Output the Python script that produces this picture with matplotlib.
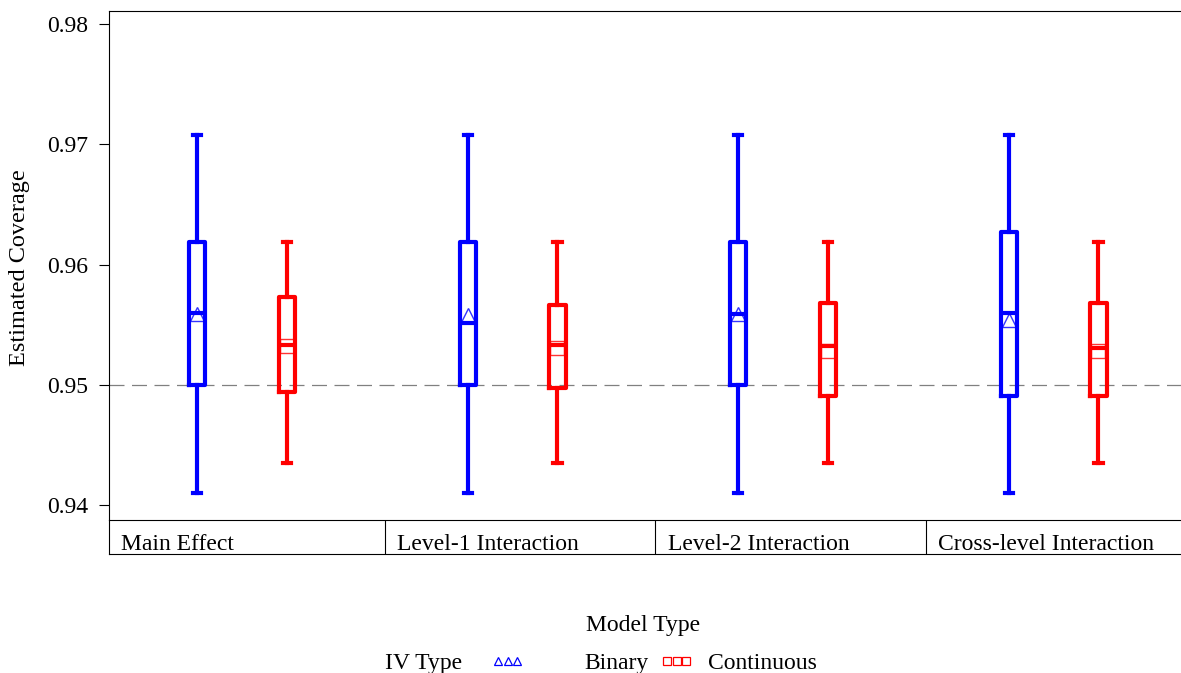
import matplotlib.pyplot as plt
from matplotlib.lines import Line2D

# data
categories = ["Main Effect", "Level-1 Interaction", "Level-2 Interaction", "Cross-level Interaction"]

binary_whislo = [0.9410, 0.9410, 0.9410, 0.9410]
binary_q1 = [0.9500, 0.9500, 0.9500, 0.9491]
binary_med = [0.9560, 0.9551, 0.9559, 0.9560]
binary_q3 = [0.9619, 0.9619, 0.9619, 0.9627]
binary_whishi = [0.9708, 0.9708, 0.9708, 0.9708]
binary_mean = [0.9559, 0.9558, 0.9559, 0.9554]

cont_whislo = [0.9435, 0.9435, 0.9435, 0.9435]
cont_q1 = [0.9494, 0.9497, 0.9491, 0.9491]
cont_med = [0.9533, 0.9533, 0.9532, 0.9531]
cont_q3 = [0.9573, 0.9566, 0.9568, 0.9568]
cont_whishi = [0.9619, 0.9619, 0.9619, 0.9619]
cont_mean = [0.9532, 0.9531, 0.9528, 0.9528]

yticks = [0.94, 0.95, 0.96, 0.97, 0.98]
reference_line = 0.95

BLUE = "#0000ff"
RED = "#ff0000"
FONT = "Liberation Serif"


def make_stats(lo, q1, med, q3, hi, mean):
    return [dict(whislo=a, q1=b, med=c, q3=d, whishi=e, mean=f, fliers=[])
            for a, b, c, d, e, f in zip(lo, q1, med, q3, hi, mean)]


def draw_boxes(ax, stats, positions, color, marker):
    lw = 3.0
    ax.bxp(stats, positions=positions, widths=0.06, capwidths=0.03,
           showmeans=True, showfliers=False, manage_ticks=False,
           boxprops=dict(color=color, linewidth=lw),
           whiskerprops=dict(color=color, linewidth=lw),
           capprops=dict(color=color, linewidth=lw),
           medianprops=dict(color=color, linewidth=lw),
           meanprops=dict(marker=marker, markersize=9.5, markerfacecolor="none",
                          markeredgecolor=color, markeredgewidth=1.0, alpha=0.8))


def main():
    plt.rcParams["font.family"] = [FONT, "DejaVu Serif"]
    plt.rcParams["font.size"] = 17

    fig = plt.figure(figsize=(11.81, 6.73), dpi=100)
    W, H = 1181, 673
    ax = fig.add_axes([109 / W, 1 - 520 / H, (W - 109) / W, 509 / H])
    strip = fig.add_axes([109 / W, 1 - 554 / H, (W - 109) / W, 34 / H])

    n = len(categories)
    centers = list(range(n))
    offset = 0.166
    xlim = (-0.492, 3.471)

    draw_boxes(ax, make_stats(binary_whislo, binary_q1, binary_med, binary_q3, binary_whishi, binary_mean),
               [c - offset for c in centers], BLUE, "^")
    draw_boxes(ax, make_stats(cont_whislo, cont_q1, cont_med, cont_q3, cont_whishi, cont_mean),
               [c + offset for c in centers], RED, "s")

    ax.axhline(reference_line, color="#808080", linewidth=0.9, dashes=(12, 6), zorder=0)

    ax.set_xlim(*xlim)
    ax.set_ylim(0.93875, 0.9811)
    ax.set_yticks(yticks)
    ax.set_yticklabels([f"{t:.2f}" for t in yticks])
    ax.set_xticks([])
    ax.tick_params(axis="y", direction="out", length=7, width=0.8, pad=8, labelsize=17)
    for side in ["right", "bottom"]:
        ax.spines[side].set_visible(False)
    ax.spines["left"].set_linewidth(0.8)
    ax.spines["top"].set_linewidth(0.8)

    fig.text(20 / W, 1 - 268 / H, "Estimated Coverage", rotation=90,
             ha="center", va="center", fontsize=17.5)

    # strip with panel names
    strip.set_xlim(*xlim)
    strip.set_ylim(0, 1)
    strip.set_xticks([])
    strip.set_yticks([])
    strip.spines["right"].set_visible(False)
    for side in ["left", "top", "bottom"]:
        strip.spines[side].set_linewidth(0.8)
    bounds = [xlim[0]] + [c + 0.528 for c in centers[:-1]]
    for b in bounds[1:]:
        strip.axvline(b, color="black", linewidth=0.8)
    for b, name in zip(bounds, categories):
        strip.text(b + 0.045, 0.28, name, ha="left", va="center", fontsize=17)

    # legend
    fig.text(643 / W, 1 - 626 / H, "Model Type", ha="center", va="center", fontsize=17)
    fig.text(385 / W, 1 - 663 / H, "IV Type", ha="left", va="center", fontsize=17)
    tri = Line2D([], [], linestyle="none", marker="^", markersize=5.5, markerfacecolor="none",
                 markeredgecolor=BLUE, markeredgewidth=0.9)
    sq = Line2D([], [], linestyle="none", marker="s", markersize=5.5, markerfacecolor="none",
                markeredgecolor=RED, markeredgewidth=0.9)
    fig.legend([tri], ["Binary"], loc="center left", bbox_to_anchor=(491 / W, 1 - 663 / H),
               numpoints=3, handlelength=1.4, handletextpad=2.55, frameon=False,
               borderpad=0, borderaxespad=0, fontsize=17)
    fig.legend([sq], ["Continuous"], loc="center left", bbox_to_anchor=(660 / W, 1 - 663 / H),
               numpoints=3, handlelength=1.4, handletextpad=0.65, frameon=False,
               borderpad=0, borderaxespad=0, fontsize=17)

    fig.savefig("out.png", dpi=100)
    plt.close(fig)


if __name__ == "__main__":
    main()
